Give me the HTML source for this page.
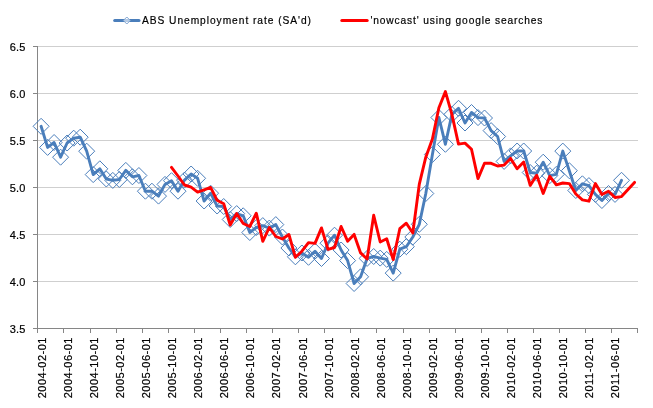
<!DOCTYPE html>
<html><head><meta charset="utf-8"><title>chart</title>
<style>
html,body{margin:0;padding:0;background:#fff;}
body{width:653px;height:408px;overflow:hidden;font-family:"Liberation Sans",sans-serif;}
svg{display:block;will-change:transform;}
text{font-family:"Liberation Sans",sans-serif;font-size:11px;fill:#000;stroke:#000;stroke-width:0.2px;}
</style></head><body>
<svg width="653" height="408" viewBox="0 0 653 408">
<rect x="0" y="0" width="653" height="408" fill="#ffffff"/>

<g stroke="#cfcfcf" stroke-width="1" shape-rendering="crispEdges">
<line x1="38" y1="46.5" x2="638" y2="46.5"/>
<line x1="38" y1="93.5" x2="638" y2="93.5"/>
<line x1="38" y1="140.5" x2="638" y2="140.5"/>
<line x1="38" y1="187.5" x2="638" y2="187.5"/>
<line x1="38" y1="234.5" x2="638" y2="234.5"/>
<line x1="38" y1="281.5" x2="638" y2="281.5"/>
</g>
<g stroke="#868686" stroke-width="1" shape-rendering="crispEdges">
<line x1="37.5" y1="46" x2="37.5" y2="329"/>
<line x1="37" y1="328.5" x2="638" y2="328.5"/>
<line x1="33" y1="46.5" x2="38" y2="46.5"/>
<line x1="33" y1="93.5" x2="38" y2="93.5"/>
<line x1="33" y1="140.5" x2="38" y2="140.5"/>
<line x1="33" y1="187.5" x2="38" y2="187.5"/>
<line x1="33" y1="234.5" x2="38" y2="234.5"/>
<line x1="33" y1="281.5" x2="38" y2="281.5"/>
<line x1="33" y1="328.5" x2="38" y2="328.5"/>
<line x1="37.5" y1="328" x2="37.5" y2="333"/>
<line x1="63.5" y1="328" x2="63.5" y2="333"/>
<line x1="90.5" y1="328" x2="90.5" y2="333"/>
<line x1="116.5" y1="328" x2="116.5" y2="333"/>
<line x1="142.5" y1="328" x2="142.5" y2="333"/>
<line x1="168.5" y1="328" x2="168.5" y2="333"/>
<line x1="194.5" y1="328" x2="194.5" y2="333"/>
<line x1="220.5" y1="328" x2="220.5" y2="333"/>
<line x1="246.5" y1="328" x2="246.5" y2="333"/>
<line x1="272.5" y1="328" x2="272.5" y2="333"/>
<line x1="298.5" y1="328" x2="298.5" y2="333"/>
<line x1="324.5" y1="328" x2="324.5" y2="333"/>
<line x1="350.5" y1="328" x2="350.5" y2="333"/>
<line x1="376.5" y1="328" x2="376.5" y2="333"/>
<line x1="403.5" y1="328" x2="403.5" y2="333"/>
<line x1="429.5" y1="328" x2="429.5" y2="333"/>
<line x1="455.5" y1="328" x2="455.5" y2="333"/>
<line x1="481.5" y1="328" x2="481.5" y2="333"/>
<line x1="507.5" y1="328" x2="507.5" y2="333"/>
<line x1="533.5" y1="328" x2="533.5" y2="333"/>
<line x1="559.5" y1="328" x2="559.5" y2="333"/>
<line x1="585.5" y1="328" x2="585.5" y2="333"/>
<line x1="611.5" y1="328" x2="611.5" y2="333"/>
<line x1="637.5" y1="328" x2="637.5" y2="333"/>
</g>
<text x="25.3" y="51.1" text-anchor="end" textLength="15.6" lengthAdjust="spacing">6.5</text>
<text x="25.3" y="98.1" text-anchor="end" textLength="15.6" lengthAdjust="spacing">6.0</text>
<text x="25.3" y="145.1" text-anchor="end" textLength="15.6" lengthAdjust="spacing">5.5</text>
<text x="25.3" y="192.1" text-anchor="end" textLength="15.6" lengthAdjust="spacing">5.0</text>
<text x="25.3" y="239.1" text-anchor="end" textLength="15.6" lengthAdjust="spacing">4.5</text>
<text x="25.3" y="286.1" text-anchor="end" textLength="15.6" lengthAdjust="spacing">4.0</text>
<text x="25.3" y="333.1" text-anchor="end" textLength="15.6" lengthAdjust="spacing">3.5</text>
<text transform="translate(45.9,398.3) rotate(-90)" textLength="60.8" lengthAdjust="spacing">2004-02-01</text>
<text transform="translate(72.0,398.3) rotate(-90)" textLength="60.8" lengthAdjust="spacing">2004-06-01</text>
<text transform="translate(98.0,398.3) rotate(-90)" textLength="60.8" lengthAdjust="spacing">2004-10-01</text>
<text transform="translate(124.1,398.3) rotate(-90)" textLength="60.8" lengthAdjust="spacing">2005-02-01</text>
<text transform="translate(150.1,398.3) rotate(-90)" textLength="60.8" lengthAdjust="spacing">2005-06-01</text>
<text transform="translate(176.2,398.3) rotate(-90)" textLength="60.8" lengthAdjust="spacing">2005-10-01</text>
<text transform="translate(202.3,398.3) rotate(-90)" textLength="60.8" lengthAdjust="spacing">2006-02-01</text>
<text transform="translate(228.3,398.3) rotate(-90)" textLength="60.8" lengthAdjust="spacing">2006-06-01</text>
<text transform="translate(254.4,398.3) rotate(-90)" textLength="60.8" lengthAdjust="spacing">2006-10-01</text>
<text transform="translate(280.4,398.3) rotate(-90)" textLength="60.8" lengthAdjust="spacing">2007-02-01</text>
<text transform="translate(306.5,398.3) rotate(-90)" textLength="60.8" lengthAdjust="spacing">2007-06-01</text>
<text transform="translate(332.6,398.3) rotate(-90)" textLength="60.8" lengthAdjust="spacing">2007-10-01</text>
<text transform="translate(358.6,398.3) rotate(-90)" textLength="60.8" lengthAdjust="spacing">2008-02-01</text>
<text transform="translate(384.7,398.3) rotate(-90)" textLength="60.8" lengthAdjust="spacing">2008-06-01</text>
<text transform="translate(410.7,398.3) rotate(-90)" textLength="60.8" lengthAdjust="spacing">2008-10-01</text>
<text transform="translate(436.8,398.3) rotate(-90)" textLength="60.8" lengthAdjust="spacing">2009-02-01</text>
<text transform="translate(462.9,398.3) rotate(-90)" textLength="60.8" lengthAdjust="spacing">2009-06-01</text>
<text transform="translate(488.9,398.3) rotate(-90)" textLength="60.8" lengthAdjust="spacing">2009-10-01</text>
<text transform="translate(515.0,398.3) rotate(-90)" textLength="60.8" lengthAdjust="spacing">2010-02-01</text>
<text transform="translate(541.0,398.3) rotate(-90)" textLength="60.8" lengthAdjust="spacing">2010-06-01</text>
<text transform="translate(567.1,398.3) rotate(-90)" textLength="60.8" lengthAdjust="spacing">2010-10-01</text>
<text transform="translate(593.2,398.3) rotate(-90)" textLength="60.8" lengthAdjust="spacing">2011-02-01</text>
<text transform="translate(619.2,398.3) rotate(-90)" textLength="60.8" lengthAdjust="spacing">2011-06-01</text>
<g fill="none" stroke="#4a7ebb" stroke-width="1">
<path d="M41.1 118.3L49.1 126.3L41.1 134.3L33.1 126.3Z"/>
<path d="M47.6 139.4L55.6 147.4L47.6 155.4L39.6 147.4Z"/>
<path d="M54.1 134.5L62.1 142.5L54.1 150.5L46.1 142.5Z"/>
<path d="M60.6 149.2L68.6 157.2L60.6 165.2L52.6 157.2Z"/>
<path d="M67.1 135.0L75.1 143.0L67.1 151.0L59.1 143.0Z"/>
<path d="M73.7 130.2L81.7 138.2L73.7 146.2L65.7 138.2Z"/>
<path d="M80.2 129.2L88.2 137.2L80.2 145.2L72.2 137.2Z"/>
<path d="M86.7 143.2L94.7 151.2L86.7 159.2L78.7 151.2Z"/>
<path d="M93.2 166.6L101.2 174.6L93.2 182.6L85.2 174.6Z"/>
<path d="M99.8 160.8L107.8 168.8L99.8 176.8L91.8 168.8Z"/>
<path d="M106.3 171.0L114.3 179.0L106.3 187.0L98.3 179.0Z"/>
<path d="M112.8 172.4L120.8 180.4L112.8 188.4L104.8 180.4Z"/>
<path d="M119.3 171.5L127.3 179.5L119.3 187.5L111.3 179.5Z"/>
<path d="M125.8 162.4L133.8 170.4L125.8 178.4L117.8 170.4Z"/>
<path d="M132.4 168.8L140.4 176.8L132.4 184.8L124.4 176.8Z"/>
<path d="M138.9 167.5L146.9 175.5L138.9 183.5L130.9 175.5Z"/>
<path d="M145.4 183.2L153.4 191.2L145.4 199.2L137.4 191.2Z"/>
<path d="M151.9 183.2L159.9 191.2L151.9 199.2L143.9 191.2Z"/>
<path d="M158.5 188.1L166.5 196.1L158.5 204.1L150.5 196.1Z"/>
<path d="M165.0 176.4L173.0 184.4L165.0 192.4L157.0 184.4Z"/>
<path d="M171.5 172.7L179.5 180.7L171.5 188.7L163.5 180.7Z"/>
<path d="M178.0 183.2L186.0 191.2L178.0 199.2L170.0 191.2Z"/>
<path d="M184.5 172.1L192.5 180.1L184.5 188.1L176.5 180.1Z"/>
<path d="M191.1 166.0L199.1 174.0L191.1 182.0L183.1 174.0Z"/>
<path d="M197.6 170.3L205.6 178.3L197.6 186.3L189.6 178.3Z"/>
<path d="M204.1 193.0L212.1 201.0L204.1 209.0L196.1 201.0Z"/>
<path d="M210.6 185.2L218.6 193.2L210.6 201.2L202.6 193.2Z"/>
<path d="M217.1 198.0L225.1 206.0L217.1 214.0L209.1 206.0Z"/>
<path d="M223.7 198.5L231.7 206.5L223.7 214.5L215.7 206.5Z"/>
<path d="M230.2 211.5L238.2 219.5L230.2 227.5L222.2 219.5Z"/>
<path d="M236.7 205.6L244.7 213.6L236.7 221.6L228.7 213.6Z"/>
<path d="M243.2 207.8L251.2 215.8L243.2 223.8L235.2 215.8Z"/>
<path d="M249.8 224.5L257.8 232.5L249.8 240.5L241.8 232.5Z"/>
<path d="M256.3 219.5L264.3 227.5L256.3 235.5L248.3 227.5Z"/>
<path d="M262.8 217.6L270.8 225.6L262.8 233.6L254.8 225.6Z"/>
<path d="M269.3 220.1L277.3 228.1L269.3 236.1L261.3 228.1Z"/>
<path d="M275.8 216.6L283.8 224.6L275.8 232.6L267.8 224.6Z"/>
<path d="M282.4 229.0L290.4 237.0L282.4 245.0L274.4 237.0Z"/>
<path d="M288.9 240.0L296.9 248.0L288.9 256.0L280.9 248.0Z"/>
<path d="M295.4 248.8L303.4 256.8L295.4 264.8L287.4 256.8Z"/>
<path d="M301.9 245.0L309.9 253.0L301.9 261.0L293.9 253.0Z"/>
<path d="M308.5 249.3L316.5 257.3L308.5 265.3L300.5 257.3Z"/>
<path d="M315.0 243.2L323.0 251.2L315.0 259.2L307.0 251.2Z"/>
<path d="M321.5 250.5L329.5 258.5L321.5 266.5L313.5 258.5Z"/>
<path d="M328.0 235.2L336.0 243.2L328.0 251.2L320.0 243.2Z"/>
<path d="M334.5 227.2L342.5 235.2L334.5 243.2L326.5 235.2Z"/>
<path d="M341.1 242.0L349.1 250.0L341.1 258.0L333.1 250.0Z"/>
<path d="M347.6 252.6L355.6 260.6L347.6 268.6L339.6 260.6Z"/>
<path d="M354.1 275.5L362.1 283.5L354.1 291.5L346.1 283.5Z"/>
<path d="M360.6 268.8L368.6 276.8L360.6 284.8L352.6 276.8Z"/>
<path d="M367.1 250.4L375.1 258.4L367.1 266.4L359.1 258.4Z"/>
<path d="M373.7 248.5L381.7 256.5L373.7 264.5L365.7 256.5Z"/>
<path d="M380.2 250.1L388.2 258.1L380.2 266.1L372.2 258.1Z"/>
<path d="M386.7 251.4L394.7 259.4L386.7 267.4L378.7 259.4Z"/>
<path d="M393.2 265.1L401.2 273.1L393.2 281.1L385.2 273.1Z"/>
<path d="M399.8 241.2L407.8 249.2L399.8 257.2L391.8 249.2Z"/>
<path d="M406.3 238.7L414.3 246.7L406.3 254.7L398.3 246.7Z"/>
<path d="M412.8 229.0L420.8 237.0L412.8 245.0L404.8 237.0Z"/>
<path d="M419.3 216.3L427.3 224.3L419.3 232.3L411.3 224.3Z"/>
<path d="M425.8 185.5L433.8 193.5L425.8 201.5L417.8 193.5Z"/>
<path d="M432.4 146.5L440.4 154.5L432.4 162.5L424.4 154.5Z"/>
<path d="M438.9 109.5L446.9 117.5L438.9 125.5L430.9 117.5Z"/>
<path d="M445.4 136.3L453.4 144.3L445.4 152.3L437.4 144.3Z"/>
<path d="M451.9 106.4L459.9 114.4L451.9 122.4L443.9 114.4Z"/>
<path d="M458.5 100.3L466.5 108.3L458.5 116.3L450.5 108.3Z"/>
<path d="M465.0 115.0L473.0 123.0L465.0 131.0L457.0 123.0Z"/>
<path d="M471.5 104.5L479.5 112.5L471.5 120.5L463.5 112.5Z"/>
<path d="M478.0 109.6L486.0 117.6L478.0 125.6L470.0 117.6Z"/>
<path d="M484.5 110.0L492.5 118.0L484.5 126.0L476.5 118.0Z"/>
<path d="M491.1 122.6L499.1 130.6L491.1 138.6L483.1 130.6Z"/>
<path d="M497.6 128.5L505.6 136.5L497.6 144.5L489.6 136.5Z"/>
<path d="M504.1 153.4L512.1 161.4L504.1 169.4L496.1 161.4Z"/>
<path d="M510.6 147.9L518.6 155.9L510.6 163.9L502.6 155.9Z"/>
<path d="M517.1 143.0L525.1 151.0L517.1 159.0L509.1 151.0Z"/>
<path d="M523.7 143.0L531.7 151.0L523.7 159.0L515.7 151.0Z"/>
<path d="M530.2 164.5L538.2 172.5L530.2 180.5L522.2 172.5Z"/>
<path d="M536.7 165.2L544.7 173.2L536.7 181.2L528.7 173.2Z"/>
<path d="M543.2 154.2L551.2 162.2L543.2 170.2L535.2 162.2Z"/>
<path d="M549.8 167.6L557.8 175.6L549.8 183.6L541.8 175.6Z"/>
<path d="M556.3 166.4L564.3 174.4L556.3 182.4L548.3 174.4Z"/>
<path d="M562.8 143.1L570.8 151.1L562.8 159.1L554.8 151.1Z"/>
<path d="M569.3 162.7L577.3 170.7L569.3 178.7L561.3 170.7Z"/>
<path d="M575.8 182.5L583.8 190.5L575.8 198.5L567.8 190.5Z"/>
<path d="M582.4 175.8L590.4 183.8L582.4 191.8L574.4 183.8Z"/>
<path d="M588.9 177.6L596.9 185.6L588.9 193.6L580.9 185.6Z"/>
<path d="M595.4 186.4L603.4 194.4L595.4 202.4L587.4 194.4Z"/>
<path d="M601.9 192.5L609.9 200.5L601.9 208.5L593.9 200.5Z"/>
<path d="M608.5 185.5L616.5 193.5L608.5 201.5L600.5 193.5Z"/>
<path d="M615.0 186.4L623.0 194.4L615.0 202.4L607.0 194.4Z"/>
<path d="M621.5 172.3L629.5 180.3L621.5 188.3L613.5 180.3Z"/>
</g>
<polyline fill="none" stroke="#4a7ebb" stroke-width="2.9" stroke-linejoin="round" stroke-linecap="round" points="41.1,126.3 47.6,147.4 54.1,142.5 60.6,157.2 67.1,143.0 73.7,138.2 80.2,137.2 86.7,151.2 93.2,174.6 99.8,168.8 106.3,179.0 112.8,180.4 119.3,179.5 125.8,170.4 132.4,176.8 138.9,175.5 145.4,191.2 151.9,191.2 158.5,196.1 165.0,184.4 171.5,180.7 178.0,191.2 184.5,180.1 191.1,174.0 197.6,178.3 204.1,201.0 210.6,193.2 217.1,206.0 223.7,206.5 230.2,219.5 236.7,213.6 243.2,215.8 249.8,232.5 256.3,227.5 262.8,225.6 269.3,228.1 275.8,224.6 282.4,237.0 288.9,248.0 295.4,256.8 301.9,253.0 308.5,257.3 315.0,251.2 321.5,258.5 328.0,243.2 334.5,235.2 341.1,250.0 347.6,260.6 354.1,283.5 360.6,276.8 367.1,258.4 373.7,256.5 380.2,258.1 386.7,259.4 393.2,273.1 399.8,249.2 406.3,246.7 412.8,237.0 419.3,224.3 425.8,193.5 432.4,154.5 438.9,117.5 445.4,144.3 451.9,114.4 458.5,108.3 465.0,123.0 471.5,112.5 478.0,117.6 484.5,118.0 491.1,130.6 497.6,136.5 504.1,161.4 510.6,155.9 517.1,151.0 523.7,151.0 530.2,172.5 536.7,173.2 543.2,162.2 549.8,175.6 556.3,174.4 562.8,151.1 569.3,170.7 575.8,190.5 582.4,183.8 588.9,185.6 595.4,194.4 601.9,200.5 608.5,193.5 615.0,194.4 621.5,180.3"/>
<polyline fill="none" stroke="#ff0000" stroke-width="2.9" stroke-linejoin="round" stroke-linecap="round" points="171.5,167.3 178.0,176.0 184.5,185.0 191.1,187.1 197.6,192.1 204.1,189.8 210.6,187.4 217.1,200.3 223.7,203.7 230.2,225.0 236.7,213.5 243.2,223.5 249.8,226.5 256.3,213.2 262.8,241.3 269.3,227.5 275.8,236.5 282.4,239.0 288.9,234.5 295.4,257.3 301.9,251.2 308.5,242.6 315.0,243.4 321.5,227.9 328.0,249.3 334.5,247.5 341.1,226.5 347.6,241.2 354.1,234.4 360.6,252.9 367.1,259.0 373.7,215.3 380.2,242.0 386.7,238.8 393.2,259.6 399.8,228.7 406.3,223.2 412.8,233.0 419.3,184.1 425.8,157.2 432.4,139.0 438.9,107.7 445.4,91.6 451.9,114.4 458.5,144.1 465.0,143.1 471.5,149.2 478.0,178.6 484.5,163.3 491.1,163.3 497.6,166.0 504.1,165.1 510.6,158.4 517.1,168.8 523.7,162.1 530.2,185.4 536.7,175.2 543.2,193.4 549.8,176.3 556.3,184.8 562.8,183.0 569.3,183.6 575.8,194.0 582.4,199.9 588.9,201.2 595.4,183.5 601.9,194.5 608.5,191.3 615.0,197.5 621.5,196.6 628.0,189.5 634.5,182.4"/>
<line x1="114.7" y1="20.5" x2="139.0" y2="20.5" stroke="#4a7ebb" stroke-width="3" stroke-linecap="round"/>
<path d="M126.8 17L130.3 20.5L126.8 24L123.3 20.5Z" fill="#ffffff" fill-opacity="0.6" stroke="#7fa3d1" stroke-width="1"/>
<text transform="translate(142,24.3) scale(0.93,1)" textLength="181.7" lengthAdjust="spacing">ABS Unemployment rate (SA'd)</text>
<line x1="341.8" y1="20.5" x2="367.2" y2="20.5" stroke="#ff0000" stroke-width="3" stroke-linecap="round"/>
<text transform="translate(370.5,24.3) scale(0.93,1)" textLength="184.9" lengthAdjust="spacing">'nowcast' using google searches</text>
</svg></body></html>
